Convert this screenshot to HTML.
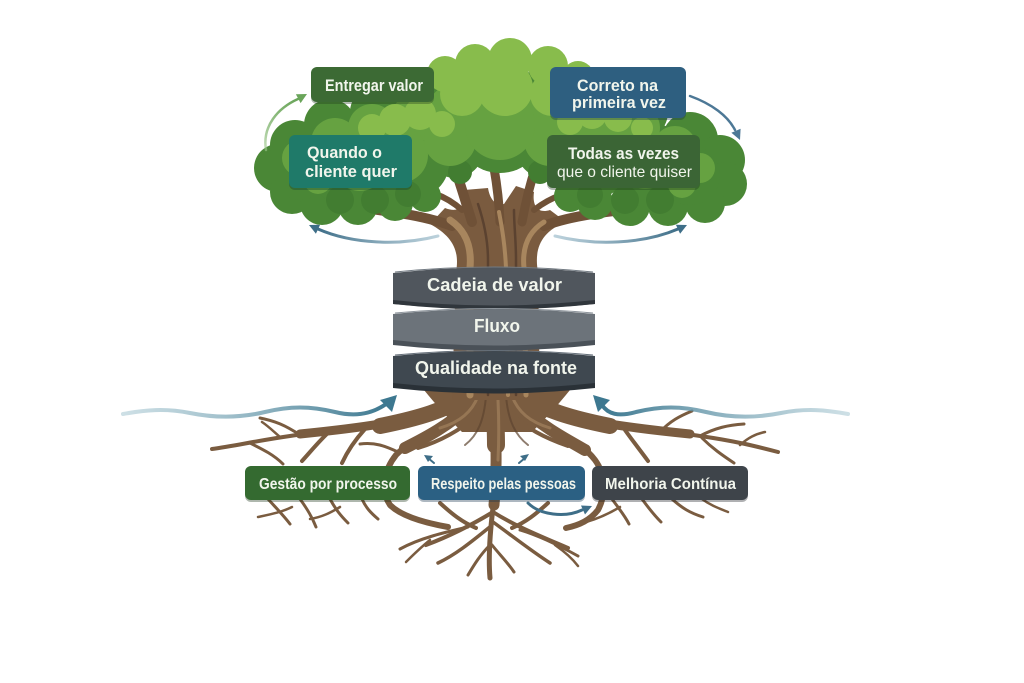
<!DOCTYPE html>
<html><head><meta charset="utf-8"><style>
html,body{margin:0;padding:0;background:#fff;}
svg{display:block;}
text{font-family:"Liberation Sans",Arial,sans-serif;fill:#f1f5ec;}
</style></head><body>
<svg width="1024" height="683" viewBox="0 0 1024 683" xmlns="http://www.w3.org/2000/svg">
<defs>
<linearGradient id="wl" x1="0" y1="0" x2="1" y2="0"><stop offset="0" stop-color="#9cc0cc" stop-opacity="0.5"/><stop offset="1" stop-color="#3d7890"/></linearGradient>
<linearGradient id="wr" x1="1" y1="0" x2="0" y2="0"><stop offset="0" stop-color="#9cc0cc" stop-opacity="0.5"/><stop offset="1" stop-color="#3d7890"/></linearGradient>
<linearGradient id="ga" x1="0" y1="1" x2="0" y2="0"><stop offset="0" stop-color="#9cc78a" stop-opacity="0.6"/><stop offset="1" stop-color="#6aa55a"/></linearGradient>
<linearGradient id="bl" x1="1" y1="0" x2="0" y2="0"><stop offset="0" stop-color="#8fb3c4" stop-opacity="0.6"/><stop offset="1" stop-color="#3e6e88"/></linearGradient>
<linearGradient id="br" x1="0" y1="0" x2="1" y2="0"><stop offset="0" stop-color="#8fb3c4" stop-opacity="0.6"/><stop offset="1" stop-color="#3e6e88"/></linearGradient>
</defs>

<!-- ROOTS -->
<g fill="none" stroke="#7a5c40" stroke-linecap="round" stroke-linejoin="round">
  <path d="M424,390 C436,405 448,418 462,432 L532,432 C546,418 558,405 570,390 Z" fill="#7a5c40" stroke="none"/>
  <path d="M465,398 C420,425 340,428 290,436 C255,441 235,446 212,449" stroke-width="4"/>
  <path d="M465,398 C430,418 380,426 300,434" stroke-width="9"/>
  <path d="M468,396 C445,410 420,418 380,426" stroke-width="16"/>
  <path d="M300,435 C285,425 275,421 260,418" stroke-width="3"/>
  <path d="M330,431 C320,440 312,450 302,461" stroke-width="4"/>
  <path d="M250,443 C264,450 274,455 283,464" stroke-width="3"/>
  <path d="M365,429 C355,440 348,450 342,463" stroke-width="4"/>
  <path d="M280,437 C272,430 268,426 262,422" stroke-width="2.5"/>
  <path d="M470,405 C440,430 410,440 396,455 C384,470 380,490 390,505 C400,515 420,522 448,527" stroke-width="6"/>
  <path d="M470,405 C450,425 425,438 405,448" stroke-width="12"/>
  <path d="M398,452 C385,446 375,442 360,444" stroke-width="3"/>
  <path d="M478,415 C458,432 438,442 418,448" stroke-width="4"/>
  <path d="M495,398 C495,430 498,460 494,500 C490,530 488,555 490,578" stroke-width="5"/>
  <path d="M495,398 C495,430 498,460 494,505" stroke-width="11"/>
  <path d="M495,395 C495,415 496,430 496,445" stroke-width="18"/>
  <path d="M493,512 C470,526 450,536 426,545" stroke-width="4"/>
  <path d="M491,526 C470,543 455,555 438,563" stroke-width="3.5"/>
  <path d="M493,512 C515,526 540,536 568,548" stroke-width="4"/>
  <path d="M493,522 C515,538 530,550 550,563" stroke-width="3.5"/>
  <path d="M490,545 C480,555 474,565 468,575" stroke-width="3"/>
  <path d="M492,545 C500,555 508,563 514,572" stroke-width="3"/>
  <path d="M468,527 C446,532 420,538 400,549" stroke-width="3"/>
  <path d="M520,530 C540,536 560,546 578,556" stroke-width="3"/>
  <path d="M440,503 C452,514 462,522 476,528" stroke-width="4"/>
  <path d="M548,503 C536,514 526,522 512,528" stroke-width="4"/>
  <path d="M430,540 C420,548 412,556 406,562" stroke-width="2.5"/>
  <path d="M555,545 C565,552 572,558 578,566" stroke-width="2.5"/>
  <path d="M525,398 C570,425 650,428 700,436 C735,441 755,446 778,452" stroke-width="4"/>
  <path d="M525,398 C560,418 610,426 690,434" stroke-width="9"/>
  <path d="M522,396 C545,410 570,418 610,426" stroke-width="16"/>
  <path d="M700,436 C715,428 728,425 744,424" stroke-width="3"/>
  <path d="M660,432 C670,421 680,416 692,411" stroke-width="3"/>
  <path d="M625,430 C632,440 640,450 648,461" stroke-width="4"/>
  <path d="M702,438 C712,448 722,455 734,463" stroke-width="3"/>
  <path d="M740,445 C748,438 755,434 765,432" stroke-width="2.5"/>
  <path d="M520,405 C550,430 580,440 595,460 C606,475 606,495 598,510 C590,520 580,525 566,528" stroke-width="6"/>
  <path d="M520,405 C540,425 560,436 585,450" stroke-width="12"/>
  <path d="M510,412 C525,428 545,438 568,446" stroke-width="4"/>
  <path d="M568,446 C575,444 582,446 588,450" stroke-width="3"/>
  <path d="M268,499 C278,510 284,516 290,524" stroke-width="3"/>
  <path d="M300,499 C308,510 312,517 316,527" stroke-width="3"/>
  <path d="M330,499 C336,510 341,516 348,523" stroke-width="3"/>
  <path d="M362,499 C366,508 371,513 378,519" stroke-width="3"/>
  <path d="M292,507 C282,512 272,514 258,517" stroke-width="2.5"/>
  <path d="M340,507 C330,513 322,517 310,519" stroke-width="2.5"/>
  <path d="M612,499 C620,510 625,516 629,524" stroke-width="3"/>
  <path d="M642,499 C650,510 655,516 661,522" stroke-width="3"/>
  <path d="M672,499 C682,508 690,513 703,517" stroke-width="3"/>
  <path d="M702,499 C710,505 718,508 728,512" stroke-width="2.5"/>
  <path d="M620,507 C610,513 600,518 586,522" stroke-width="2.5"/>
</g>
<g fill="none" stroke="#9d7d5a" stroke-linecap="round" stroke-width="3" opacity="0.8">
  <path d="M478,396 C472,412 460,422 440,428"/>
  <path d="M512,396 C518,412 530,422 550,428"/>
  <path d="M498,400 C499,420 499,440 498,460"/>
</g>
<g fill="none" stroke="#5e4530" stroke-linecap="round" stroke-width="2" opacity="0.7">
  <path d="M486,396 C484,420 478,435 465,445"/>
  <path d="M506,396 C508,420 515,435 528,445"/>
</g>

<!-- water arrows -->
<path d="M123,414 C145,410 165,408 190,413 C215,418 240,418 265,412 C290,406 310,406 335,412 C355,417 372,414 386,404" fill="none" stroke="url(#wl)" stroke-width="4" stroke-linecap="round"/>
<polygon points="397,395 392,412 380,400" fill="#3d7890"/>
<path d="M848,414 C826,410 806,408 781,413 C756,418 731,418 706,412 C681,406 661,406 636,412 C618,417 608,414 602,405" fill="none" stroke="url(#wr)" stroke-width="4" stroke-linecap="round"/>
<polygon points="593,395 610,400 598,412" fill="#3d7890"/>

<!-- TRUNK -->
<path d="M452,400 L456,272 C460,250 452,236 430,224 L445,208 C460,214 466,205 464,190 L488,188 C490,200 496,206 504,204 L516,186 L534,192 C532,206 538,214 550,210 L566,222 C540,232 534,250 538,272 L540,400 Z" fill="#7a5b3f"/>
<g fill="none" stroke="#6f5137" stroke-linecap="round">
  <path d="M452,226 C420,214 380,210 335,205" stroke-width="10"/>
  <path d="M462,210 C446,196 428,188 400,190" stroke-width="6"/>
  <path d="M544,226 C574,214 622,210 668,205" stroke-width="10"/>
  <path d="M534,210 C552,196 575,188 602,190" stroke-width="6"/>
  <path d="M472,222 C465,200 460,182 452,160" stroke-width="10"/>
  <path d="M500,222 C499,200 497,185 494,168" stroke-width="9"/>
  <path d="M522,222 C526,200 530,184 536,166" stroke-width="9"/>
</g>
<g fill="none" stroke="#a8865e" stroke-linecap="round">
  <path d="M470,395 L470,268 C472,245 465,230 450,220" stroke-width="7"/>
  <path d="M508,395 L506,268 C505,245 502,228 499,212" stroke-width="4"/>
  <path d="M526,395 L524,268 C522,248 528,232 544,222" stroke-width="5"/>
</g>
<g fill="none" stroke="#5b4230" stroke-linecap="round" stroke-width="2.5">
  <path d="M488,395 L488,260 C488,240 484,222 478,204"/>
  <path d="M516,395 L516,260 C516,240 514,225 514,210"/>
</g>

<!-- CANOPY dark rim -->
<g fill="#4a8736">
  <circle cx="278" cy="168" r="24"/><circle cx="292" cy="192" r="22"/><circle cx="322" cy="203" r="22"/>
  <circle cx="358" cy="205" r="20"/><circle cx="395" cy="203" r="18"/><circle cx="425" cy="196" r="16"/>
  <circle cx="295" cy="145" r="25"/><circle cx="330" cy="125" r="26"/><circle cx="375" cy="112" r="25"/>
  <circle cx="420" cy="105" r="25"/><circle cx="460" cy="100" r="30"/><circle cx="540" cy="100" r="30"/>
  <circle cx="585" cy="100" r="28"/><circle cx="640" cy="112" r="28"/><circle cx="690" cy="140" r="28"/>
  <circle cx="720" cy="160" r="25"/><circle cx="725" cy="184" r="22"/><circle cx="705" cy="203" r="20"/>
  <circle cx="668" cy="206" r="20"/><circle cx="630" cy="206" r="20"/><circle cx="595" cy="202" r="18"/>
  <circle cx="570" cy="196" r="16"/>
  <circle cx="350" cy="165" r="42"/><circle cx="410" cy="160" r="40"/><circle cx="500" cy="128" r="45"/>
  <circle cx="590" cy="160" r="40"/><circle cx="650" cy="165" r="42"/><circle cx="690" cy="175" r="30"/>
  <circle cx="300" cy="175" r="25"/><circle cx="455" cy="150" r="28"/><circle cx="545" cy="150" r="28"/>
</g>
<g fill="#427d31">
  <circle cx="340" cy="200" r="14"/><circle cx="375" cy="200" r="14"/><circle cx="408" cy="194" r="13"/>
  <circle cx="460" cy="172" r="12"/><circle cx="540" cy="172" r="12"/>
  <circle cx="590" cy="195" r="13"/><circle cx="625" cy="200" r="14"/><circle cx="660" cy="200" r="14"/>
</g>
<g fill="#66a241">
  <circle cx="300" cy="158" r="18"/><circle cx="335" cy="142" r="24"/><circle cx="372" cy="128" r="24"/>
  <circle cx="415" cy="118" r="24"/><circle cx="455" cy="112" r="28"/><circle cx="545" cy="112" r="28"/>
  <circle cx="590" cy="116" r="26"/><circle cx="636" cy="128" r="24"/><circle cx="675" cy="148" r="22"/>
  <circle cx="700" cy="168" r="15"/><circle cx="318" cy="180" r="14"/>
  <circle cx="682" cy="184" r="14"/>
  <circle cx="360" cy="165" r="26"/><circle cx="400" cy="155" r="28"/><circle cx="600" cy="155" r="28"/>
  <circle cx="645" cy="165" r="24"/>
  <circle cx="450" cy="140" r="26"/><circle cx="550" cy="140" r="26"/><circle cx="500" cy="125" r="35"/>
</g>
<g fill="#88bc4c">
  <circle cx="445" cy="74" r="18"/><circle cx="475" cy="64" r="20"/><circle cx="510" cy="60" r="22"/>
  <circle cx="548" cy="66" r="20"/><circle cx="578" cy="77" r="16"/><circle cx="462" cy="94" r="22"/>
  <circle cx="505" cy="88" r="28"/><circle cx="552" cy="94" r="22"/>
  <circle cx="372" cy="128" r="14"/><circle cx="395" cy="120" r="16"/><circle cx="420" cy="114" r="16"/>
  <circle cx="442" cy="124" r="13"/>
  <circle cx="570" cy="122" r="13"/><circle cx="592" cy="114" r="15"/><circle cx="618" cy="118" r="14"/>
  <circle cx="642" cy="128" r="11"/>
</g>

<!-- canopy arrows -->
<path d="M266,150 C262,126 278,108 298,99" fill="none" stroke="url(#ga)" stroke-width="2.5" stroke-linecap="round"/>
<polygon points="307,94 300.6,103.1 295.9,94.3" fill="#6aa55a"/>
<path d="M690,96 C712,104 728,116 735,130" fill="none" stroke="#4d7896" stroke-width="2.5" stroke-linecap="round"/>
<polygon points="740,140 740.6,128.8 731.4,132.8" fill="#4d7896"/>
<path d="M438,236 C400,246 352,244 318,229" fill="none" stroke="url(#bl)" stroke-width="3" stroke-linecap="round"/>
<polygon points="309,225 320.1,224.7 315.9,233.7" fill="#3e6e88"/>
<path d="M555,236 C595,246 643,244 678,229" fill="none" stroke="url(#br)" stroke-width="3" stroke-linecap="round"/>
<polygon points="687,225 680.1,233.7 675.9,224.7" fill="#3e6e88"/>

<!-- BANDS -->
<g>
  <path d="M393,273 Q494,262 595,273 L595,304 Q494,314 393,304 Z" fill="#50565d"/>
  <path d="M393,300 Q494,311 595,300 L595,304 Q494,315 393,304 Z" fill="#30363c"/>
  <path d="M395,272 Q494,262 593,272" fill="none" stroke="#737b83" stroke-width="1"/>
  <path d="M393,314 Q494,304 595,314 L595,344 Q494,354 393,344 Z" fill="#6c737a"/>
  <path d="M393,340 Q494,351 595,340 L595,345 Q494,356 393,345 Z" fill="#4a5158"/>
  <path d="M395,313 Q494,304 593,313" fill="none" stroke="#8d949b" stroke-width="1"/>
  <path d="M393,356 Q494,346 595,356 L595,387 Q494,397 393,387 Z" fill="#3f4850"/>
  <path d="M393,383 Q494,394 595,383 L595,388 Q494,399 393,388 Z" fill="#2a3137"/>
  <path d="M395,355 Q494,346 593,355" fill="none" stroke="#66707a" stroke-width="1"/>
</g>
<text x="427" y="291" font-size="18.5" font-weight="700" textLength="135" lengthAdjust="spacingAndGlyphs">Cadeia de valor</text>
<text x="474" y="332" font-size="18.5" font-weight="700" textLength="46" lengthAdjust="spacingAndGlyphs">Fluxo</text>
<text x="415" y="374" font-size="18.5" font-weight="700" textLength="162" lengthAdjust="spacingAndGlyphs">Qualidade na fonte</text>

<!-- CANOPY BOXES -->
<g>
  <rect x="311" y="69" width="123" height="35" rx="6" fill="#1f3a1c" opacity="0.35"/>
  <rect x="311" y="67" width="123" height="35" rx="6" fill="#3c6a34"/>
  <rect x="550" y="69" width="136" height="51" rx="6" fill="#173247" opacity="0.35"/>
  <rect x="550" y="67" width="136" height="51" rx="6" fill="#2e5f80"/>
  <rect x="289" y="137" width="123" height="53" rx="6" fill="#0e3a31" opacity="0.35"/>
  <rect x="289" y="135" width="123" height="53" rx="6" fill="#1f7a69"/>
  <rect x="547" y="137" width="153" height="53" rx="6" fill="#1b3318" opacity="0.35"/>
  <rect x="547" y="135" width="153" height="53" rx="6" fill="#3b6535"/>
</g>
<text x="325" y="91" font-size="17" font-weight="700" textLength="98" lengthAdjust="spacingAndGlyphs">Entregar valor</text>
<text x="577" y="91" font-size="17" font-weight="700" textLength="81" lengthAdjust="spacingAndGlyphs">Correto na</text>
<text x="572" y="108" font-size="17" font-weight="700" textLength="94" lengthAdjust="spacingAndGlyphs">primeira vez</text>
<text x="307" y="158" font-size="17" font-weight="700" textLength="75" lengthAdjust="spacingAndGlyphs">Quando o</text>
<text x="305" y="177" font-size="17" font-weight="700" textLength="92" lengthAdjust="spacingAndGlyphs">cliente quer</text>
<text x="568" y="159" font-size="17" font-weight="700" textLength="111" lengthAdjust="spacingAndGlyphs">Todas as vezes</text>
<text x="557" y="177" font-size="16" textLength="135" lengthAdjust="spacingAndGlyphs">que o cliente quiser</text>

<!-- small arrows near Respeito -->
<path d="M434,463 L428,458" stroke="#3e6e88" stroke-width="2" stroke-linecap="round"/>
<polygon points="424,455 433,456 428,462" fill="#3e6e88"/>
<path d="M519,463 L525,458" stroke="#3e6e88" stroke-width="2" stroke-linecap="round"/>
<polygon points="529,454 520,456 525,461" fill="#3e6e88"/>

<!-- ROOT BOXES -->
<g>
  <rect x="245" y="468" width="165" height="34" rx="6" fill="#163214" opacity="0.35"/>
  <rect x="245" y="466" width="165" height="34" rx="6" fill="#346a30"/>
  <rect x="418" y="468" width="167" height="34" rx="6" fill="#14304a" opacity="0.35"/>
  <rect x="418" y="466" width="167" height="34" rx="6" fill="#2b6083"/>
  <rect x="592" y="468" width="156" height="34" rx="6" fill="#1a1e22" opacity="0.35"/>
  <rect x="592" y="466" width="156" height="34" rx="6" fill="#3e444a"/>
</g>
<text x="259" y="489" font-size="16" font-weight="700" textLength="138" lengthAdjust="spacingAndGlyphs">Gestão por processo</text>
<text x="431" y="489" font-size="16" font-weight="700" textLength="145" lengthAdjust="spacingAndGlyphs">Respeito pelas pessoas</text>
<text x="605" y="489" font-size="16" font-weight="700" textLength="131" lengthAdjust="spacingAndGlyphs">Melhoria Contínua</text>

<path d="M528,503 C540,515 565,518 582,510" fill="none" stroke="#3e6e88" stroke-width="3" stroke-linecap="round"/>
<polygon points="592,506 585,514.5 581,505.5" fill="#3e6e88"/>
</svg>
</body></html>
